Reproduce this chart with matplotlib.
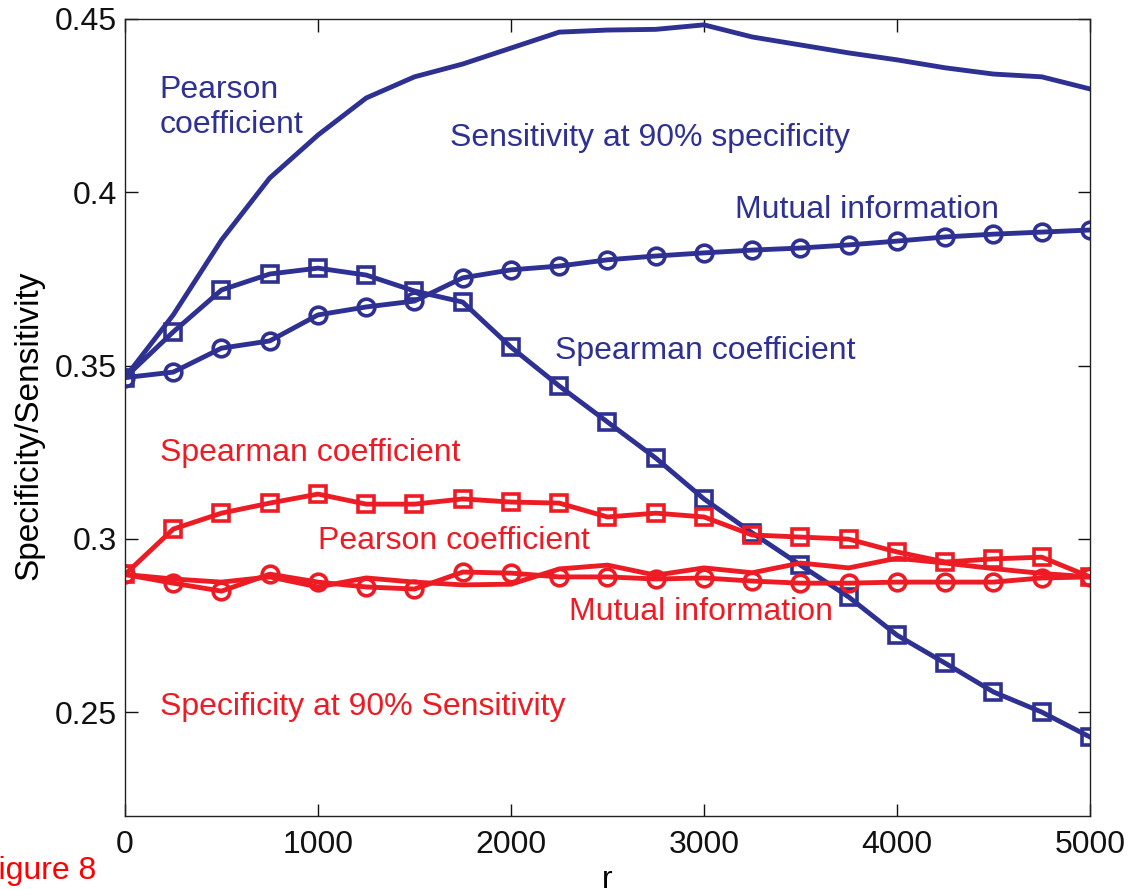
import matplotlib
matplotlib.use('Agg')
import matplotlib.pyplot as plt

# r values (sample size)
r_vals = [0, 250, 500, 750, 1000, 1250, 1500, 1750, 2000, 2250, 2500,
          2750, 3000, 3250, 3500, 3750, 4000, 4250, 4500, 4750, 5000]

# sensitivity at 90% specificity (blue)
sens_pearson = [0.3465, 0.3646, 0.3862, 0.4041, 0.4165, 0.4272, 0.4333, 0.4370,
                0.4416, 0.4462, 0.4468, 0.4470, 0.4483, 0.4448, 0.4425, 0.4402,
                0.4382, 0.4359, 0.4341, 0.4333, 0.4298]
sens_spearman = [0.3465, 0.3597, 0.3718, 0.3764, 0.3781, 0.3761, 0.3715, 0.3683,
                 0.3553, 0.3441, 0.3337, 0.3233, 0.3115, 0.3017, 0.2924, 0.2832,
                 0.2722, 0.2641, 0.2558, 0.2500, 0.2428]
sens_mutual = [0.3465, 0.3481, 0.3550, 0.3571, 0.3646, 0.3669, 0.3686, 0.3753,
               0.3776, 0.3787, 0.3805, 0.3816, 0.3825, 0.3833, 0.3839, 0.3848,
               0.3859, 0.3871, 0.3879, 0.3885, 0.3891]

# specificity at 90% sensitivity (red)
spec_pearson = [0.2897, 0.2884, 0.2875, 0.2890, 0.2861, 0.2887, 0.2875, 0.2867,
                0.2869, 0.2913, 0.2924, 0.2895, 0.2916, 0.2902, 0.2930, 0.2916,
                0.2944, 0.2930, 0.2914, 0.2900, 0.2890]
spec_spearman = [0.2897, 0.3028, 0.3074, 0.3103, 0.3129, 0.3100, 0.3100, 0.3115,
                 0.3106, 0.3103, 0.3063, 0.3074, 0.3063, 0.3011, 0.3005, 0.2999,
                 0.2962, 0.2933, 0.2942, 0.2947, 0.2890]
spec_mutual = [0.2897, 0.2872, 0.2849, 0.2898, 0.2875, 0.2861, 0.2855, 0.2904,
               0.2901, 0.2890, 0.2890, 0.2884, 0.2887, 0.2878, 0.2872, 0.2872,
               0.2875, 0.2875, 0.2875, 0.2887, 0.2890]

x_ticks = [0, 1000, 2000, 3000, 4000, 5000]
y_ticks = [0.25, 0.3, 0.35, 0.4, 0.45]
y_tick_labels = ['0.25', '0.3', '0.35', '0.4', '0.45']

blue = '#2e3192'
red = '#ed1c24'

plt.rcParams['font.family'] = ['Liberation Sans', 'DejaVu Sans']
plt.rcParams['font.size'] = 23

fig = plt.figure(figsize=(11.3, 8.9), dpi=100)
ax = fig.add_axes([0.1106, 0.0831, 0.854, 0.8956])

lw = 3.5
ms = 12
mew = 2.6

ax.plot(r_vals, sens_pearson, color=blue, lw=lw)
ax.plot(r_vals, sens_spearman, color=blue, lw=lw, marker='s', ms=ms,
        mfc='none', mew=mew)
ax.plot(r_vals, sens_mutual, color=blue, lw=lw, marker='o', ms=ms,
        mfc='none', mew=mew)

ax.plot(r_vals, spec_pearson, color=red, lw=lw)
ax.plot(r_vals, spec_spearman, color=red, lw=lw, marker='s', ms=ms,
        mfc='none', mew=mew)
ax.plot(r_vals, spec_mutual, color=red, lw=lw, marker='o', ms=ms,
        mfc='none', mew=mew)

# curve labels
ax.text(180, 0.4245, 'Pearson\ncoefficient', color=blue, ha='left', va='center',
        linespacing=1.22)
ax.text(1685, 0.4157, 'Sensitivity at 90% specificity', color=blue, ha='left', va='center')
ax.text(3160, 0.3949, 'Mutual information', color=blue, ha='left', va='center')
ax.text(2230, 0.3542, 'Spearman coefficient', color=blue, ha='left', va='center')
ax.text(180, 0.3249, 'Spearman coefficient', color=red, ha='left', va='center')
ax.text(1000, 0.2995, 'Pearson coefficient', color=red, ha='left', va='center')
ax.text(2300, 0.2790, 'Mutual information', color=red, ha='left', va='center')
ax.text(180, 0.2516, 'Specificity at 90% Sensitivity', color=red, ha='left', va='center')

ax.set_xlim(0, 5000)
ax.set_ylim(0.22, 0.45)
ax.set_xticks(x_ticks)
ax.set_yticks(y_ticks)
ax.set_xticklabels([str(v) for v in x_ticks])
ax.set_yticklabels(y_tick_labels)
ax.tick_params(direction='in', length=9, width=1, top=True, right=True,
               labelsize=23, colors='#111111')
ax.tick_params(axis='y', pad=6)
ax.tick_params(axis='x', pad=10)
for sp in ax.spines.values():
    sp.set_linewidth(1)
    sp.set_color('#222222')

ax.set_xlabel('r', labelpad=0, fontsize=23)
ax.set_ylabel('Specificity/Sensitivity', fontsize=24)
ax.yaxis.set_label_coords(-0.083, 0.49)
ax.xaxis.set_label_coords(0.5, -0.062)

fig.text(-0.019, 0.012, 'Figure 8', color='#ff0000', fontsize=23, ha='left', va='baseline')

fig.savefig('out.png', dpi=100)
